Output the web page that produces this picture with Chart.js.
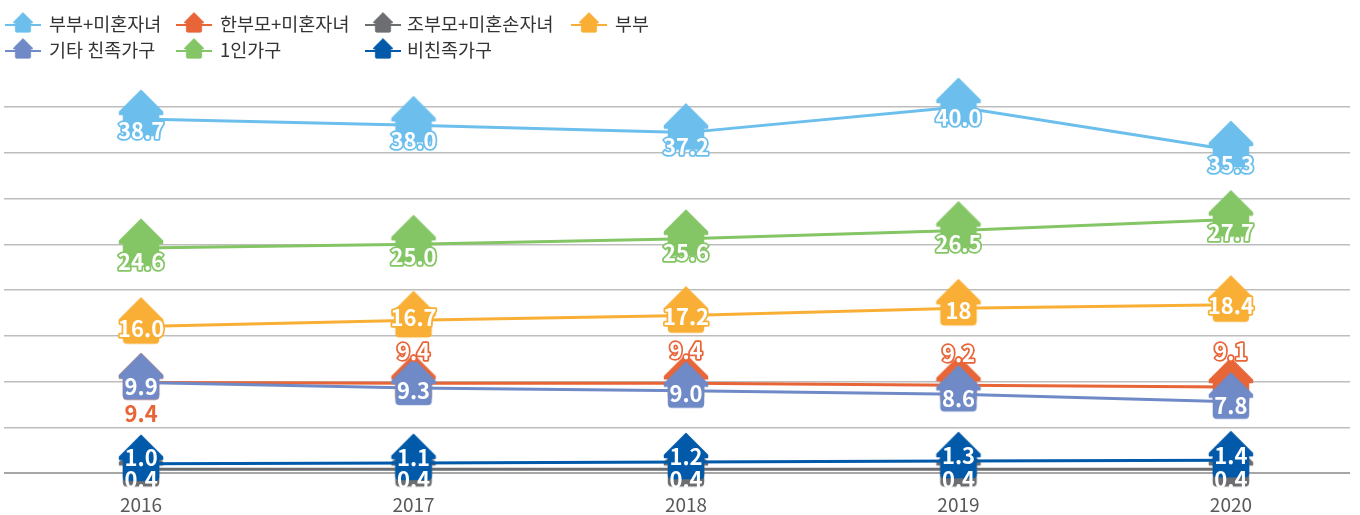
<!DOCTYPE html>
<html lang="ko">
<head>
<meta charset="utf-8">
<style>html,body{margin:0;padding:0;background:#fff}canvas{display:block}</style>
<script src="https://cdn.jsdelivr.net/npm/chart.js@4"></script>
</head>
<body>
<canvas id="c" width="1360" height="515"></canvas>
<script>
const years = [2016, 2017, 2018, 2019, 2020];
const seriesNames = ['부부+미혼자녀', '한부모+미혼자녀', '조부모+미혼손자녀', '부부', '기타 친족가구', '1인가구', '비친족가구'];
const coupleChild = [38.7, 38.0, 37.2, 40.0, 35.3];
const singleParent = [9.9, 9.8, 9.8, 9.6, 9.4];           // as plotted in the picture
const singleParentLabels = ['9.4', '9.4', '9.4', '9.2', '9.1']; // as printed in the picture
const grandparent = [0.4, 0.4, 0.4, 0.4, 0.4];
const couple = [16.0, 16.7, 17.2, 18, 18.4];
const coupleLabels = ['16.0', '16.7', '17.2', '18', '18.4'];
const otherKin = [9.9, 9.3, 9.0, 8.6, 7.8];
const onePerson = [24.6, 25.0, 25.6, 26.5, 27.7];
const nonKin = [1.0, 1.1, 1.2, 1.3, 1.4];
const colors = ['#6CBFEC', '#E86538', '#6D6E71', '#F9AF35', '#6F8AC7', '#84C565', '#0159A9'];
const FONT = '"Noto Sans CJK KR","Noto Sans",sans-serif';

function house(ctx, x, y, color, s) {
  ctx.save();
  ctx.translate(x, y);
  ctx.scale(s, s);
  ctx.fillStyle = color;
  ctx.strokeStyle = color;
  ctx.lineJoin = 'round';
  ctx.lineWidth = 1.5;
  ctx.beginPath();
  ctx.moveTo(0, -28.5);
  ctx.lineTo(21.5, -7);
  ctx.lineTo(21.5, -4.5);
  ctx.lineTo(17.5, -4.5);
  ctx.lineTo(17.5, 13);
  ctx.quadraticCurveTo(17.5, 16.5, 14, 16.5);
  ctx.lineTo(-14, 16.5);
  ctx.quadraticCurveTo(-17.5, 16.5, -17.5, 13);
  ctx.lineTo(-17.5, -4.5);
  ctx.lineTo(-21.5, -4.5);
  ctx.lineTo(-21.5, -7);
  ctx.closePath();
  ctx.fill();
  ctx.stroke();
  ctx.restore();
}
function housePoint(color) {
  const cv = document.createElement('canvas');
  cv.width = 50; cv.height = 62;
  house(cv.getContext('2d'), 25, 31, color, 1);
  return cv;
}

const seriesValues = [coupleChild, singleParent, grandparent, couple, otherKin, onePerson, nonKin];
// label text, vertical offset from the point, and text style per series
const labelTexts = [
  coupleChild.map(v => v.toFixed(1)), singleParentLabels, grandparent.map(v => v.toFixed(1)),
  coupleLabels, otherKin.map(v => v.toFixed(1)), onePerson.map(v => v.toFixed(1)), nonKin.map(v => v.toFixed(1))
];
const labelOffsets = [
  [12, 15, 14, 11, 15], [31, -32, -33, -32, -35], [10, 10, 10, 10, 10],
  [2, -3, 1, 2, 1], [4, 3, 3, 4, 4], [14, 12, 14, 13, 13], [-6, -5, -5, -5, -5]
];
const labelOutlined = [true, true, false, true, false, true, false];

const valueLabels = {
  id: 'valueLabels',
  afterDatasetsDraw(chart) {
    const ctx = chart.ctx;
    ctx.save();
    ctx.font = 'bold 22px ' + FONT;
    ctx.textAlign = 'center';
    ctx.textBaseline = 'middle';
    ctx.lineJoin = 'round';
    chart.data.datasets.forEach((ds, i) => {
      chart.getDatasetMeta(i).data.forEach((pt, j) => {
        const x = pt.x, y = pt.y + labelOffsets[i][j], t = labelTexts[i][j];
        if (i === 1 && j === 0) {            // the plain orange label of 2016
          ctx.fillStyle = colors[1];
          ctx.fillText(t, x, y);
          return;
        }
        if (labelOutlined[i]) {
          ctx.strokeStyle = colors[i];
          ctx.lineWidth = 3.5;
          ctx.strokeText(t, x, y);
        }
        ctx.fillStyle = '#fff';
        ctx.fillText(t, x, y);
      });
    });
    ctx.restore();
  }
};

const legendCols = [23, 194, 383, 589];
const legendTextX = [49, 220, 407, 615];
const legendSlots = [[0, 0], [1, 0], [2, 0], [3, 0], [0, 1], [1, 1], [2, 1]];
const houseLegend = {
  id: 'houseLegend',
  afterDraw(chart) {
    const ctx = chart.ctx;
    ctx.save();
    ctx.font = '18.5px ' + FONT;
    ctx.textBaseline = 'middle';
    chart.data.datasets.forEach((ds, i) => {
      const [c, r] = legendSlots[i];
      const x = legendCols[c], y = 24 + r * 26;
      ctx.strokeStyle = ds.borderColor;
      ctx.lineWidth = 2;
      ctx.beginPath();
      ctx.moveTo(x - 18, y + 1);
      ctx.lineTo(x + 18, y + 1);
      ctx.stroke();
      house(ctx, x, y + 1, ds.borderColor, 0.44);
      ctx.fillStyle = '#333';
      ctx.textAlign = 'left';
      ctx.fillText(ds.label, legendTextX[c], y);
    });
    ctx.restore();
  }
};

new Chart(document.getElementById('c'), {
  type: 'line',
  data: {
    datasets: seriesNames.map((name, i) => ({
      label: name,
      data: years.map((yr, j) => ({ x: yr, y: seriesValues[i][j] })),
      borderColor: colors[i],
      backgroundColor: colors[i],
      borderWidth: 3,
      tension: 0,
      fill: false,
      clip: false,
      order: -i,
      pointStyle: housePoint(colors[i]),
      pointRadius: 25,
      pointHoverRadius: 25
    }))
  },
  options: {
    responsive: false,
    animation: false,
    events: [],
    layout: { autoPadding: false, padding: { top: 107, left: 4, right: 10, bottom: 0 } },
    plugins: { legend: { display: false }, tooltip: { enabled: false } },
    scales: {
      x: {
        type: 'linear',
        min: 2015.497,
        max: 2020.437,
        afterBuildTicks(axis) { axis.ticks = years.map(v => ({ value: v })); },
        afterFit(axis) { axis.height = 42; },
        grid: { display: false, drawTicks: false },
        border: { display: false },
        ticks: {
          autoSkip: false, maxRotation: 0, padding: 20,
          color: '#595959',
          font: { family: FONT, size: 19 },
          callback: v => String(v)
        }
      },
      y: {
        min: 0,
        max: 40,
        afterFit(axis) { axis.width = 0; },
        afterBuildTicks(axis) {
          axis.ticks = [0, 5, 10, 15, 20, 25, 30, 35, 40].map(v => ({ value: v }));
        },
        border: { display: false },
        grid: {
          drawTicks: false,
          color: c => c.tick.value === 0 ? '#a6a6a6' : '#bdbdbd',
          lineWidth: c => c.tick.value === 0 ? 2 : 1.5
        },
        ticks: { display: false }
      }
    }
  },
  plugins: [valueLabels, houseLegend]
});
</script>
</body>
</html>
